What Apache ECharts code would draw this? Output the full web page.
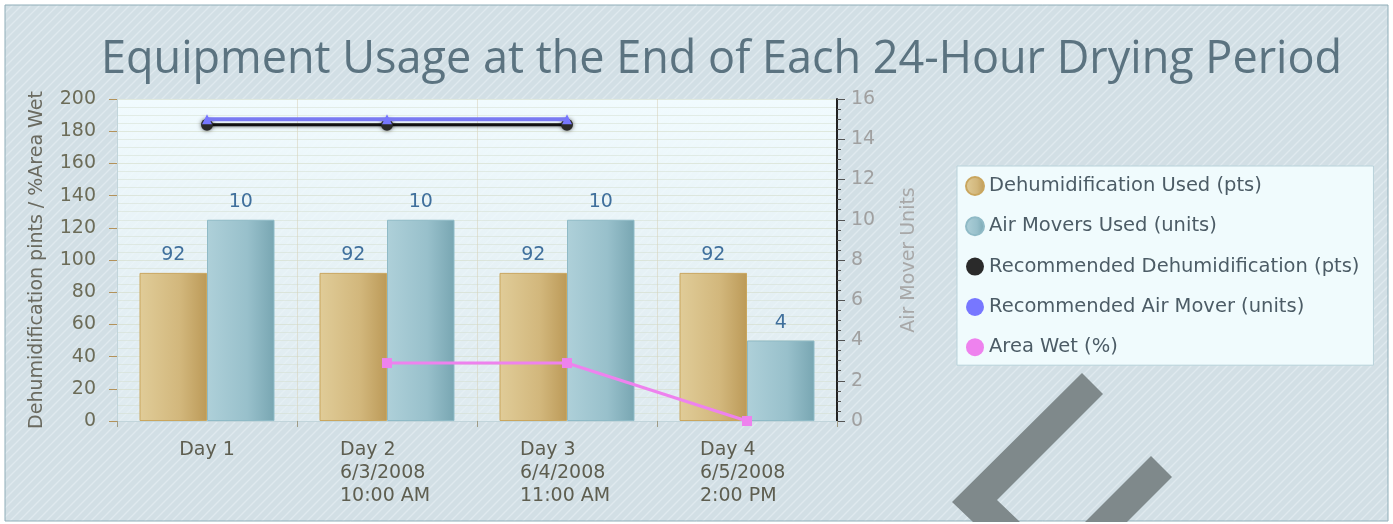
<!DOCTYPE html>
<html>
<head>
<meta charset="utf-8">
<script src="https://cdn.jsdelivr.net/npm/echarts@6/dist/echarts.min.js"></script>
<style>
html,body{margin:0;padding:0;background:#fff;}
#c{width:1393px;height:524px;}
</style>
</head>
<body>
<div id="c"></div>
<script>
const titleText = 'Equipment Usage at the End of Each 24-Hour Drying Period';
const categories = ['Day 1', 'Day 2\n6/3/2008\n10:00 AM', 'Day 3\n6/4/2008\n11:00 AM', 'Day 4\n6/5/2008\n2:00 PM'];
const dehumidUsed = [92, 92, 92, 92];
const airMoversUsed = [10, 10, 10, 4];
const recDehumid = [184, 184, 184, null];
const recAirMover = [15, 15, 15, null];
const areaWet = [null, 36, 36, 0];
const seriesNames = ['Dehumidification Used (pts)', 'Air Movers Used (units)', 'Recommended Dehumidification (pts)', 'Recommended Air Mover (units)', 'Area Wet (%)'];
const leftAxisName = 'Dehumidification pints / %Area Wet';
const rightAxisName = 'Air Mover Units';

// stripe pattern
const pc = document.createElement('canvas');
pc.width = 9; pc.height = 9;
const g = pc.getContext('2d');
g.fillStyle = '#d2dfe5';
g.fillRect(0, 0, 9, 9);
g.strokeStyle = '#dfe9ee';
g.lineWidth = 1.4;
g.beginPath();
g.moveTo(-1, 10); g.lineTo(10, -1);
g.moveTo(-1, 1); g.lineTo(1, -1);
g.moveTo(8, 10); g.lineTo(10, 8);
g.stroke();

const FONT = 'DejaVu Sans';
const FS = 19;
const chart = echarts.init(document.getElementById('c'), null, {renderer: 'canvas'});

const goldGrad = new echarts.graphic.LinearGradient(0, 0, 1, 0, [
  {offset: 0, color: '#e0cc98'}, {offset: 0.6, color: '#d2b77c'}, {offset: 1, color: '#bc9a58'}]);
const tealGrad = new echarts.graphic.LinearGradient(0, 0, 1, 0, [
  {offset: 0, color: '#aed0d9'}, {offset: 0.6, color: '#98c0cb'}, {offset: 1, color: '#78a6b2'}]);

chart.setOption({
  animation: false,
  backgroundColor: '#ffffff',
  graphic: [
    {type: 'rect', z: -10, silent: true, shape: {x: 5, y: 5, width: 1383, height: 516},
     style: {fill: {image: pc, repeat: 'repeat'}, stroke: '#8fadb8', lineWidth: 1}},
    {type: 'polygon', z: -5, silent: true,
     shape: {points: [[1082, 373], [1103, 394], [997, 500], [1020, 522], [973, 522], [952, 502]]},
     style: {fill: '#7f898b'}},
    {type: 'polygon', z: -5, silent: true,
     shape: {points: [[1151, 456], [1172, 477], [1127, 522], [1085, 522]]},
     style: {fill: '#7f898b'}}
  ],
  title: {
    text: titleText,
    left: 96, top: 33,
    textStyle: {fontFamily: 'Open Sans', fontSize: 45, fontWeight: 'normal', color: '#5b7380'}
  },
  legend: {
    orient: 'vertical',
    left: 957, top: 166,
    padding: [10, 14, 8, 8],
    itemWidth: 18, itemHeight: 18, itemGap: 20.3,
    icon: 'circle',
    backgroundColor: '#f0fbfd',
    borderColor: '#b9d2da', borderWidth: 1,
    textStyle: {fontFamily: FONT, fontSize: 19.5, color: '#4c5c66'},
    data: seriesNames
  },
  grid: {
    left: 117, right: 556, top: 99, bottom: 103,
    show: true, borderWidth: 0,
    backgroundColor: new echarts.graphic.LinearGradient(0, 0, 0, 1, [
      {offset: 0, color: 'rgba(242,252,255,0.97)'}, {offset: 1, color: 'rgba(232,243,247,0.55)'}])
  },
  xAxis: {
    type: 'category',
    data: categories,
    boundaryGap: true,
    axisLine: {show: true, lineStyle: {color: '#c2d5db', width: 1}},
    axisTick: {show: true, interval: 0, length: 6, lineStyle: {color: '#a09c86'}},
    splitLine: {show: true, interval: 0, lineStyle: {color: 'rgba(215,210,185,0.55)'}},
    axisLabel: {
      interval: 0,
      margin: 18,
      fontFamily: FONT, fontSize: FS, color: '#5e5e50', lineHeight: 23,
      formatter: function (v) {
        const parts = v.split('\n');
        if (parts.length === 1) return '{s|' + v + '}';
        return parts.map(p => '{m|' + p + '}').join('\n');
      },
      rich: {
        s: {fontFamily: FONT, fontSize: FS, color: '#5e5e50', lineHeight: 23},
        m: {fontFamily: FONT, fontSize: FS, color: '#5e5e50', lineHeight: 23, width: 94, align: 'left'}
      }
    }
  },
  yAxis: [
    {
      type: 'value', min: 0, max: 200, interval: 20,
      name: leftAxisName, nameLocation: 'middle', nameGap: 70, nameRotate: 90,
      nameTextStyle: {fontFamily: FONT, fontSize: FS, color: '#6a6a60'},
      axisLine: {show: true, lineStyle: {color: '#c2d5db'}},
      axisTick: {show: true, length: 8, lineStyle: {color: '#b3925a'}},
      axisLabel: {fontFamily: FONT, fontSize: FS, color: '#6c6c58', margin: 21},
      splitLine: {show: true, lineStyle: {color: 'rgba(212,220,200,0.6)'}},
      minorTick: {show: false, splitNumber: 4},
      minorSplitLine: {show: true, lineStyle: {color: 'rgba(212,222,205,0.5)'}}
    },
    {
      type: 'value', min: 0, max: 16, interval: 2, position: 'right',
      name: rightAxisName, nameLocation: 'middle', nameGap: 63, nameRotate: 90,
      nameTextStyle: {fontFamily: FONT, fontSize: FS, color: '#a8a8a8'},
      axisLine: {show: true, lineStyle: {color: '#222', width: 2}},
      axisTick: {show: true, length: 8, lineStyle: {color: '#555'}},
      minorTick: {show: true, splitNumber: 4, length: 4, lineStyle: {color: '#555'}},
      axisLabel: {fontFamily: FONT, fontSize: FS, color: '#a0a0a0', margin: 14},
      splitLine: {show: false}
    }
  ],
  series: [
    {
      name: seriesNames[0], type: 'bar', yAxisIndex: 0, data: dehumidUsed,
      barCategoryGap: '25%', barGap: '0%',
      itemStyle: {color: goldGrad, borderColor: '#c9a65e', borderWidth: 1},
      label: {show: true, position: 'top', distance: 8, fontFamily: FONT, fontSize: FS, color: '#3f6f9c'}
    },
    {
      name: seriesNames[1], type: 'bar', yAxisIndex: 1, data: airMoversUsed,
      barCategoryGap: '25%', barGap: '0%',
      itemStyle: {color: tealGrad, borderColor: '#8fbac6', borderWidth: 1},
      label: {show: true, position: 'top', distance: 8, fontFamily: FONT, fontSize: FS, color: '#3f6f9c'}
    },
    {
      name: seriesNames[2], type: 'line', yAxisIndex: 0, data: recDehumid, z: 3,
      symbol: 'circle', symbolSize: 12, showSymbol: true,
      lineStyle: {color: '#111', width: 3, shadowColor: 'rgba(0,0,0,0.4)', shadowBlur: 3, shadowOffsetY: 1},
      itemStyle: {color: '#2a2a2a', shadowColor: 'rgba(0,0,0,0.6)', shadowBlur: 4}
    },
    {
      name: seriesNames[3], type: 'line', yAxisIndex: 1, data: recAirMover, z: 4,
      symbol: 'triangle', symbolSize: 10, showSymbol: true,
      lineStyle: {color: '#7a7af2', width: 4},
      itemStyle: {color: '#7777ff'}
    },
    {
      name: seriesNames[4], type: 'line', yAxisIndex: 0, data: areaWet, z: 5,
      symbol: 'rect', symbolSize: 10, showSymbol: true,
      lineStyle: {color: '#ee82ee', width: 3},
      itemStyle: {color: '#ee82ee'}
    }
  ]
});
</script>
</body>
</html>
